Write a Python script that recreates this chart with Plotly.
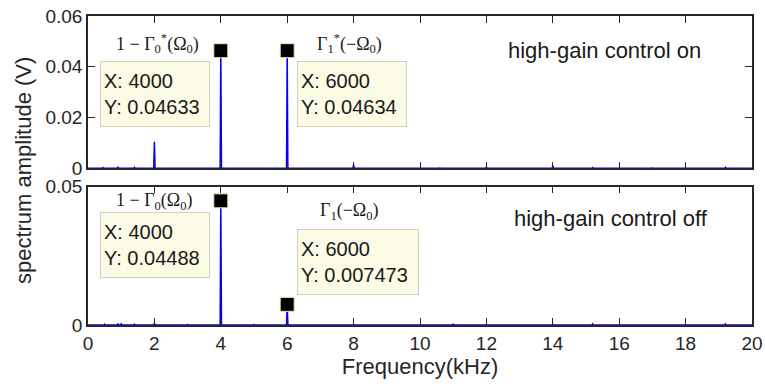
import plotly.graph_objects as go
from plotly.subplots import make_subplots

# Spectral lines (frequency in kHz, amplitude in V)
on_freqs = [0.45, 0.9, 1.4, 2.0, 4.0, 6.0, 8.0, 10.6, 12.0, 14.0, 15.2, 17.0, 19.2]
on_amps = [0.0003, 0.0006, 0.0004, 0.0105, 0.04633, 0.04634, 0.0015, 0.0002,
           0.0005, 0.0012, 0.0003, 0.0002, 0.0004]

off_freqs = [0.5, 0.9, 1.0, 1.4, 2.0, 3.0, 4.0, 5.0, 5.5, 6.0, 11.0, 12.3, 14.0, 15.2, 19.2]
off_amps = [0.0003, 0.0005, 0.0004, 0.0003, 0.0006, 0.0002, 0.04488, 0.0002,
            0.0002, 0.007473, 0.0003, 0.0002, 0.0003, 0.0004, 0.0004]

# Data-tip points
on_tip_x = [4000, 6000]
on_tip_y = [0.04633, 0.04634]
off_tip_x = [4000, 6000]
off_tip_y = [0.04488, 0.007473]

x_ticks = [0, 2, 4, 6, 8, 10, 12, 14, 16, 18, 20]


def spectrum_line(freqs, amps, f_max=20.0, half_width=0.02):
    xs, ys = [0.0], [0.0]
    for f, a in sorted(zip(freqs, amps)):
        xs += [f - half_width, f, f + half_width]
        ys += [0.0, a, 0.0]
    xs.append(f_max)
    ys.append(0.0)
    return xs, ys


fig = make_subplots(rows=2, cols=1, shared_xaxes=False, vertical_spacing=0.06)

line_color = "#0000ff"
for row, (fr, am) in enumerate([(on_freqs, on_amps), (off_freqs, off_amps)], start=1):
    xs, ys = spectrum_line(fr, am)
    fig.add_trace(go.Scatter(x=xs, y=ys, mode="lines",
                             line=dict(color=line_color, width=1.5),
                             showlegend=False, hoverinfo="skip"), row=row, col=1)

for row, (tx, ty) in enumerate([(on_tip_x, on_tip_y), (off_tip_x, off_tip_y)], start=1):
    fig.add_trace(go.Scatter(x=[v / 1000 for v in tx], y=ty, mode="markers",
                             marker=dict(symbol="square", size=14, color="black",
                                         line=dict(color="#eeeab0", width=1)),
                             showlegend=False, hoverinfo="skip"), row=row, col=1)

axis_common = dict(showline=True, linecolor="#262626", linewidth=1.5, mirror="allticks",
                   ticks="inside", ticklen=7, tickwidth=1.2, tickcolor="#262626",
                   showgrid=False, zeroline=False, automargin=False,
                   tickfont=dict(family="Liberation Sans, Arial", size=19, color="#262626"))

fig.update_xaxes(range=[0, 20], tickvals=x_ticks, **axis_common)
fig.update_xaxes(showticklabels=False, row=1, col=1)
fig.update_xaxes(ticktext=[str(t) for t in x_ticks], row=2, col=1)
fig.update_xaxes(title=dict(text="Frequency(kHz)", standoff=2,
                            font=dict(family="Liberation Sans, Arial", size=22, color="#262626")),
                 row=2, col=1)
fig.update_yaxes(**axis_common)
fig.update_yaxes(range=[0, 0.06], tickvals=[0, 0.02, 0.04, 0.06],
                 ticktext=["0", "0.02", "0.04", "0.06"], row=1, col=1)
fig.update_yaxes(range=[0, 0.05], tickvals=[0, 0.05], ticktext=["0", "0.05"], row=2, col=1)

fig.update_layout(
    width=765, height=386,
    margin=dict(l=88, r=13, t=16, b=61, autoexpand=False),
    plot_bgcolor="white", paper_bgcolor="white",
    xaxis=dict(domain=[0, 1]), yaxis=dict(domain=[0.507, 1.0]),
    xaxis2=dict(domain=[0, 1]), yaxis2=dict(domain=[0.0, 0.4476]),
)

tip_font = dict(family="Liberation Sans, Arial", size=20, color="#1a1a1a")
tip_boxes = [
    ("x", "y", 0.367, 0.04227, 102, on_tip_x[0], on_tip_y[0]),
    ("x", "y", 6.305, 0.04227, 102, on_tip_x[1], on_tip_y[1]),
    ("x2", "y2", 0.367, 0.04096, 102, off_tip_x[0], off_tip_y[0]),
    ("x2", "y2", 6.305, 0.0346, 114, off_tip_x[1], off_tip_y[1]),
]
for xr, yr, px, py, w, vx, vy in tip_boxes:
    fig.add_annotation(xref=xr, yref=yr, x=px, y=py, xanchor="left", yanchor="top",
                       text=f"X: {vx}<br>Y: {vy:.4g}", align="left", showarrow=False,
                       font=tip_font, bgcolor="#fbfbe6", bordercolor="#cfcfc0",
                       borderwidth=1, borderpad=3, width=w, height=58)

math_font = dict(family="Liberation Serif, DejaVu Serif, serif", size=18, color="#1a1a1a")
math_labels = [
    ("x", "y", 2.08, 0.04936, "1 − Γ<sub>0</sub><sup>*</sup>(Ω<sub>0</sub>)"),
    ("x", "y", 7.87, 0.04936, "Γ<sub>1</sub><sup>*</sup>(−Ω<sub>0</sub>)"),
    ("x2", "y2", 2.0, 0.04458, "1 − Γ<sub>0</sub>(Ω<sub>0</sub>)"),
    ("x2", "y2", 7.88, 0.04096, "Γ<sub>1</sub>(−Ω<sub>0</sub>)"),
]
for xr, yr, px, py, txt in math_labels:
    fig.add_annotation(xref=xr, yref=yr, x=px, y=py, text=txt, showarrow=False,
                       font=math_font)

label_font = dict(family="Liberation Sans, Arial", size=22, color="#1a1a1a")
fig.add_annotation(xref="x", yref="y", x=15.57, y=0.0466, text="high-gain control on",
                   showarrow=False, font=label_font)
fig.add_annotation(xref="x2", yref="y2", x=15.76, y=0.03857, text="high-gain control off",
                   showarrow=False, font=label_font)

fig.add_annotation(xref="paper", yref="paper", x=-0.097, y=0.5, xanchor="center",
                   yanchor="middle", text="spectrum amplitude (V)", textangle=-90,
                   showarrow=False,
                   font=dict(family="Liberation Sans, Arial", size=22, color="#262626"))

fig.write_html("out.html")
